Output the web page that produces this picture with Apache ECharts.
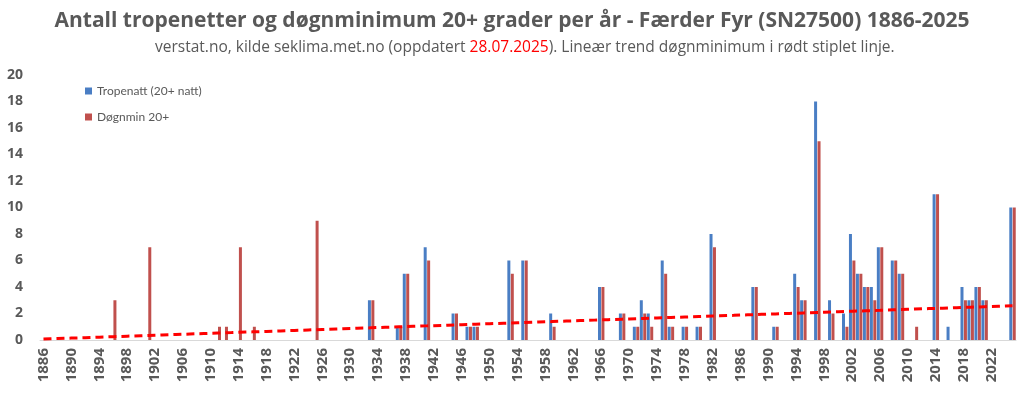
<!DOCTYPE html>
<html>
<head>
<meta charset="utf-8">
<script src="https://cdn.jsdelivr.net/npm/echarts@6/dist/echarts.min.js"></script>
<style>
html,body{margin:0;padding:0;background:#fff;}
#c{width:1024px;height:398px;}
</style>
</head>
<body>
<div id="c"></div>
<script>
// Data
const firstYear = 1886;
const lastYear = 2025;
const barYears   = [1896,1901,1911,1912,1914,1916,1925,1933,1937,1938,1941,1945,1947,1948,1953,1955,1959,1966,1969,1971,1972,1973,1975,1976,1978,1980,1982,1988,1991,1994,1995,1997,1999,2001,2002,2003,2004,2005,2006,2008,2009,2011,2014,2016,2018,2019,2020,2021,2025];
const tropenatt  = [0,0,0,0,0,0,0,3,1,5,7,2,1,1,6,6,2,4,2,1,3,2,6,1,1,1,8,4,1,5,3,18,3,2,8,5,4,4,7,6,5,0,11,1,4,3,4,3,10];
const dognmin    = [3,7,1,1,7,1,9,3,1,5,6,2,1,1,5,6,1,4,2,1,2,1,5,1,1,1,7,4,1,4,3,15,2,1,6,5,4,3,7,6,5,1,11,0,3,3,4,3,10];
const yTicks = [0,2,4,6,8,10,12,14,16,18,20];

const categories = [];
for (let y = firstYear; y <= lastYear; y++) categories.push(String(y));
const blueFull = categories.map(() => 0);
const redFull = categories.map(() => 0);
barYears.forEach((yr, i) => {
  const idx = yr - firstYear;
  blueFull[idx] = tropenatt[i];
  redFull[idx] = dognmin[i];
});
// Linear trend (least squares) of Døgnmin 20+
const n = redFull.length;
let sx = 0, sy = 0, sxx = 0, sxy = 0;
redFull.forEach((v, i) => { sx += i; sy += v; sxx += i * i; sxy += i * v; });
const slope = (n * sxy - sx * sy) / (n * sxx - sx * sx);
const icpt = (sy - slope * sx) / n;
const trend = redFull.map((v, i) => +(icpt + slope * i).toFixed(3));

const chart = echarts.init(document.getElementById('c'), null, {renderer: 'canvas'});
const grey = '#595959';
const font = '"Open Sans", Lato, sans-serif';
chart.setOption({
  animation: false,
  textStyle: {fontFamily: font},
  title: [{
    text: 'Antall tropenetter og døgnminimum 20+ grader per år - Færder Fyr (SN27500) 1886-2025',
    left: 'center', top: 6,
    textStyle: {fontSize: 21, fontWeight: 'bold', color: grey, fontFamily: font}
  }, {
    text: '{a|verstat.no, kilde seklima.met.no (oppdatert }{b|28.07.2025}{a|). Lineær trend døgnminimum i rødt stiplet linje.}',
    left: 150, top: 35,
    textStyle: {
      fontWeight: 'normal',
      rich: {
        a: {fontSize: 15.5, color: grey, fontFamily: font, fontWeight: 'normal'},
        b: {fontSize: 15.5, color: '#FF0000', fontFamily: font, fontWeight: 'normal'}
      }
    }
  }],
  legend: {
    orient: 'vertical', left: 80, top: 80,
    itemWidth: 7, itemHeight: 7, itemGap: 14,
    textStyle: {fontSize: 12, color: grey, fontFamily: 'Lato, sans-serif'},
    data: [{name: 'Tropenatt (20+ natt)', icon: 'rect'}, {name: 'Døgnmin 20+', icon: 'rect'}]
  },
  grid: {left: 40, right: 8, top: 75, bottom: 58, containLabel: false},
  xAxis: {
    type: 'category', data: categories, boundaryGap: true,
    axisLine: {lineStyle: {color: '#D9D9D9', width: 1}},
    axisTick: {show: false},
    axisLabel: {interval: 3, rotate: 90, color: grey, fontSize: 15, fontWeight: 'bold', margin: 8, fontFamily: font}
  },
  yAxis: {
    type: 'value', min: yTicks[0], max: yTicks[yTicks.length - 1], interval: 2,
    axisLine: {show: false}, axisTick: {show: false},
    splitLine: {show: false},
    axisLabel: {color: grey, fontSize: 14, fontWeight: 'bold', margin: 17, fontFamily: font}
  },
  series: [{
    name: 'Tropenatt (20+ natt)', type: 'bar', data: blueFull,
    barWidth: 3, barGap: '15%',
    itemStyle: {color: '#4A7EC4'}
  }, {
    name: 'Døgnmin 20+', type: 'bar', data: redFull,
    barWidth: 3,
    itemStyle: {color: '#C0504D'}
  }, {
    name: 'trend', type: 'line', data: trend, symbol: 'none',
    lineStyle: {color: '#FF0000', width: 3, type: [8, 5]},
    z: 5
  }]
});
</script>
</body>
</html>
